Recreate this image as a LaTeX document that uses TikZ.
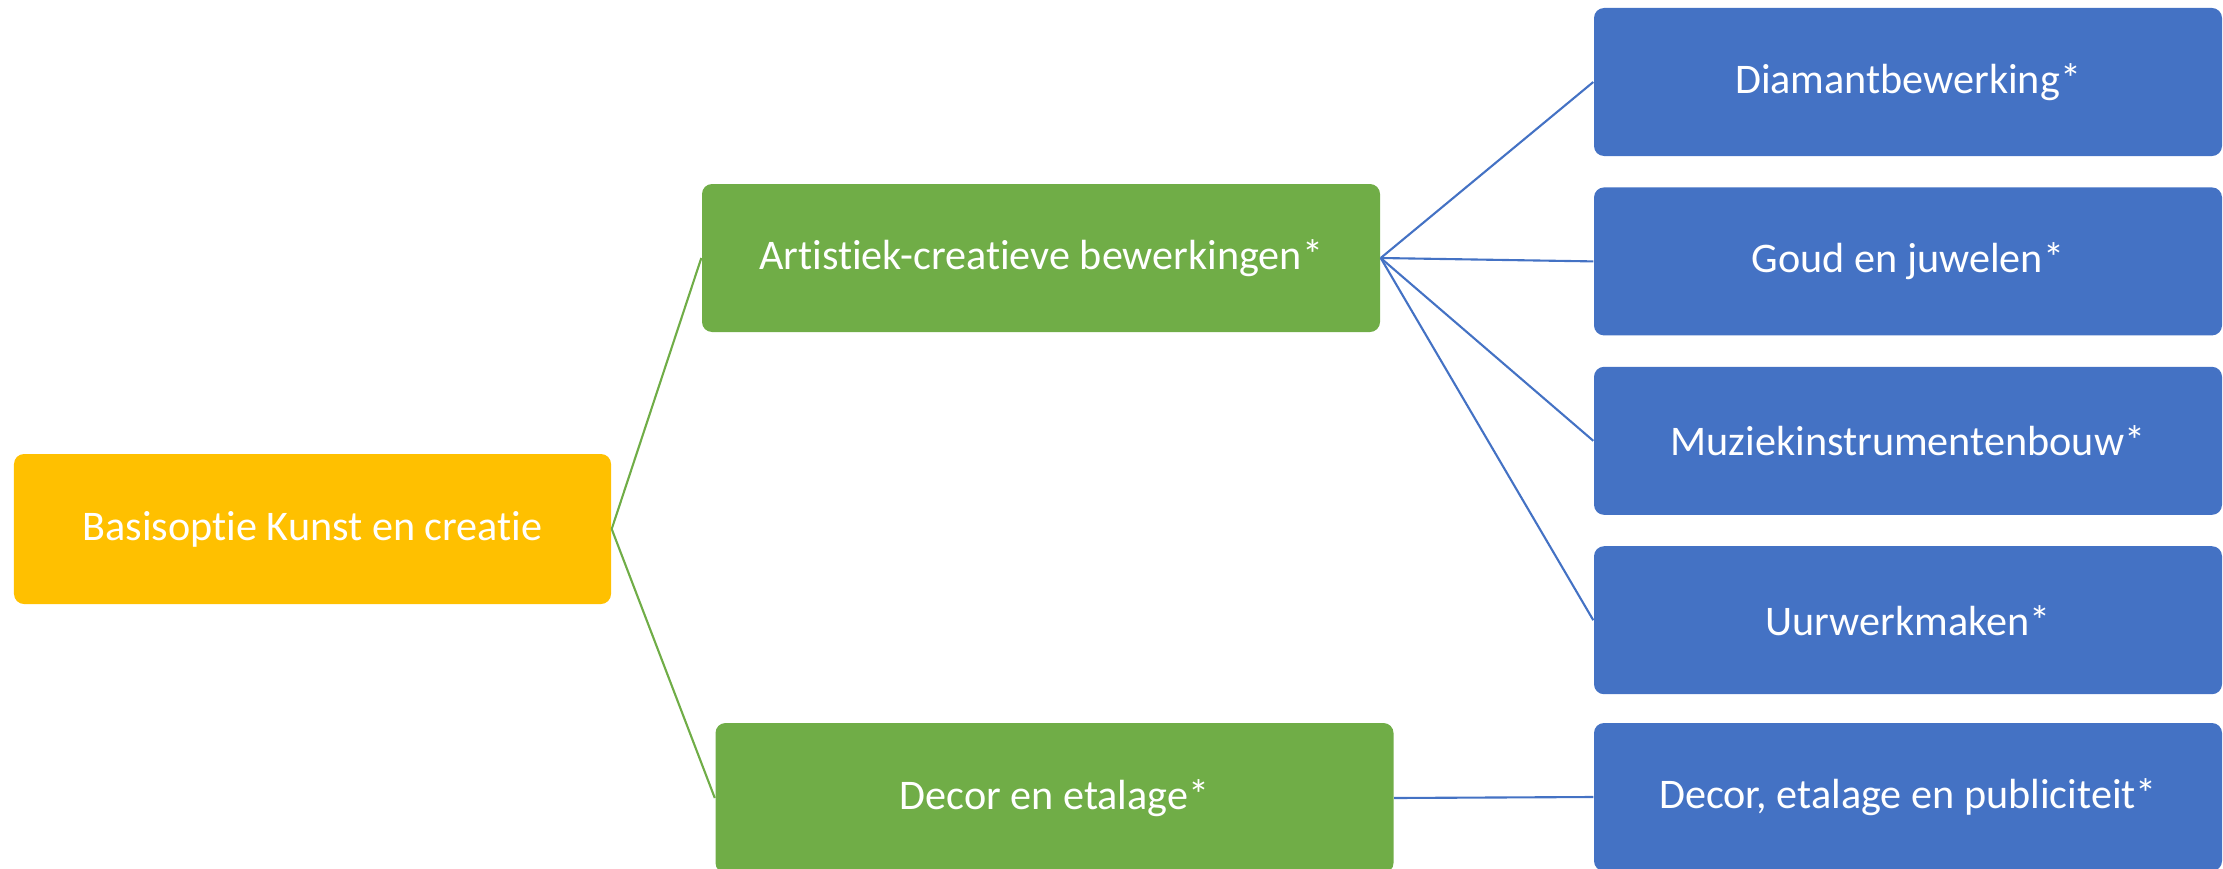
\documentclass[tikz,border=0pt]{standalone}
\usepackage{fontspec}
\setmainfont{Carlito}[Ligatures={NoCommon}]
\usetikzlibrary{
  positioning,  % Function "of" (e.g. [below=of x])
}
\definecolor{myyellow}{HTML}{FFC000}
\definecolor{mygreen}{HTML}{70AD47}
\definecolor{myblue}{HTML}{4472C4}
\def\myvdist{0.30cm}
\tikzset{
  font=\fontsize{12}{14}\selectfont,
  my box/.style={
    rectangle,
    rounded corners=1mm,
    text=white,
    inner sep=0mm,
    minimum height=1.48cm
  },
  my root/.style={
    my box,
    fill=myyellow,
    minimum width=5.97cm,
    minimum height=1.50cm
  },
  my topic/.style={
    my box,
    fill=mygreen,
    minimum width=6.78cm
  },
  my option/.style={
    my box,
    fill=myblue,
    minimum width=6.28cm
  },
  green link/.style={draw=mygreen,line width=0.6pt},
  blue link/.style={draw=myblue,line width=0.6pt}
}

\begin{document}
\begin{tikzpicture}[node distance=\myvdist]
\useasboundingbox (0,0) rectangle (22.23,8.68);
\node[my root]   (root) at (3.125,3.39)  {Basisoptie Kunst en creatie};
\node[my topic]  (art)  at (10.41,6.10)  {Artistiek-creatieve bewerkingen*};
\node[my topic,minimum height=1.50cm]
                 (dec)  at (10.545,0.70) {Decor en etalage*};
\node[my option] (dia)  at (19.08,7.86)  {Diamantbewerking*};
\node[my option] (gou)  [below=of dia]   {Goud en juwelen*};
\node[my option] (muz)  [below=of gou]   {Muziekinstrumentenbouw*};
\node[my option] (uur)  [below=of muz]   {Uurwerkmaken*};
\node[my option] (pub)  at (19.08,0.71)  {Decor, etalage en publiciteit*};
\path[green link] (root.east) edge (art.west)
                  (root.east) edge (dec.west);
\path[blue link]  (art.east)  edge (dia.west)
                  (art.east)  edge (gou.west)
                  (art.east)  edge (muz.west)
                  (art.east)  edge (uur.west)
                  (dec.east)  edge (pub.west);
\end{tikzpicture}
\end{document}
